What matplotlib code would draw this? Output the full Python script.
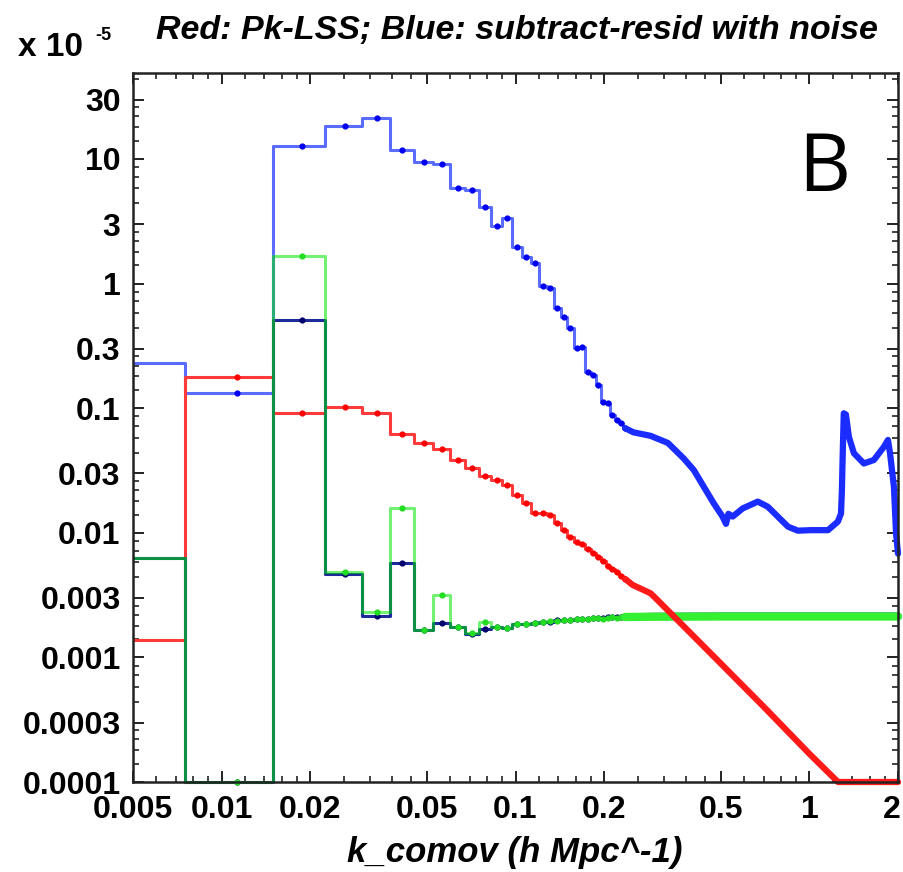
import numpy as np
import matplotlib
matplotlib.use("Agg")
import matplotlib.pyplot as plt
from matplotlib.patches import Rectangle
from matplotlib.transforms import ScaledTranslation
from matplotlib.ticker import FixedLocator, FixedFormatter, NullFormatter

# low-k part: linear k bins (width 0.0075), drawn as histogram steps
k_bins = [0.00375, 0.01125, 0.01875, 0.02625, 0.03375, 0.04125, 0.04875, 0.05625,
          0.06375, 0.07125, 0.07875, 0.08625, 0.09375, 0.10125, 0.10875, 0.11625,
          0.12375, 0.13125, 0.13875, 0.14625, 0.15375, 0.16125, 0.16875, 0.17625,
          0.18375, 0.19125, 0.19875, 0.20625, 0.21375, 0.22125, 0.22875, 0.23625]
red_bins = [1.38e-3, 0.179, 0.091, 0.1017, 0.091, 0.0617, 0.053, 0.0468,
            0.0384, 0.0329, 0.0286, 0.0265, 0.0242, 0.0201, 0.0173, 0.0143,
            0.0145, 0.0139, 0.0119, 0.0105, 0.0093, 8.5e-3, 8.1e-3, 7.4e-3,
            6.84e-3, 6.43e-3, 5.94e-3, 5.44e-3, 5.12e-3, 4.82e-3, 4.53e-3, 4.26e-3]
blue_bins = [0.23, 0.132, 12.6, 18.5, 21.2, 11.8, 9.5, 9.06,
             5.82, 5.65, 4.14, 2.92, 3.34, 1.98, 1.64, 1.47,
             0.95, 0.93, 0.634, 0.542, 0.438, 0.303, 0.31, 0.196,
             0.185, 0.154, 0.113, 0.11, 0.088, 0.080, 0.0756, 0.069]
navy_bins = [6.24e-3, 1e-4, 0.51, 4.67e-3, 2.15e-3, 5.69e-3, 1.66e-3, 1.88e-3,
             1.74e-3, 1.54e-3, 1.68e-3, 1.75e-3, 1.72e-3, 1.84e-3, 1.85e-3, 1.9e-3,
             1.93e-3, 1.94e-3, 1.98e-3, 1.99e-3, 2.0e-3, 2.03e-3, 2.05e-3, 2.04e-3,
             2.07e-3, 2.08e-3, 2.07e-3, 2.1e-3, 2.11e-3, 2.1e-3, 2.12e-3, 2.12e-3]
green_bins = [6.24e-3, 1e-4, 1.675, 4.82e-3, 2.33e-3, 0.0157, 1.66e-3, 3.17e-3,
              1.76e-3, 1.56e-3, 1.94e-3, 1.76e-3, 1.71e-3, 1.85e-3, 1.86e-3, 1.9e-3,
              1.92e-3, 1.95e-3, 1.97e-3, 2.0e-3, 1.98e-3, 2.02e-3, 2.04e-3, 2.03e-3,
              2.06e-3, 2.07e-3, 2.05e-3, 2.08e-3, 2.1e-3, 2.09e-3, 2.1e-3, 2.11e-3]

# high-k part: bins are so dense there that the dots merge into a thick line
red_hi_k = [0.23625, 0.25, 0.288, 0.3, 0.4, 0.5, 0.7, 1.0, 1.25, 2.0]
red_hi = [4.26e-3, 3.82e-3, 3.27e-3, 2.98e-3, 1.51e-3, 8.9e-4, 4.0e-4, 1.68e-4, 1e-4, 1e-4]
blue_hi_k = [0.23625, 0.252, 0.288, 0.33, 0.373, 0.404, 0.437, 0.472, 0.506, 0.52,
             0.53, 0.548, 0.593, 0.667, 0.721, 0.78, 0.845, 0.913, 1.011, 1.156,
             1.249, 1.28, 1.289, 1.295, 1.3, 1.308, 1.33, 1.361, 1.416, 1.531,
             1.656, 1.791, 1.849, 1.879, 1.937, 1.97, 2.0]
blue_hi = [0.069, 0.064, 0.06, 0.0526, 0.0396, 0.0319, 0.0234, 0.0173, 0.0135, 0.0118,
           0.0142, 0.0135, 0.0157, 0.0178, 0.0162, 0.0135, 0.0112, 0.0104, 0.0105, 0.0105,
           0.0123, 0.0143, 0.022, 0.036, 0.0526, 0.091, 0.089, 0.059, 0.0435, 0.036,
           0.0384, 0.049, 0.0556, 0.0435, 0.0234, 0.0099, 0.0068]
navy_hi_k = [0.23625, 0.3, 0.5, 1.0, 2.0]
navy_hi = [2.12e-3, 2.14e-3, 2.15e-3, 2.15e-3, 2.15e-3]
green_hi_k = [0.23625, 0.3, 0.5, 1.0, 2.0]
green_hi = [2.11e-3, 2.12e-3, 2.13e-3, 2.13e-3, 2.13e-3]

x_major = [0.005, 0.01, 0.02, 0.05, 0.1, 0.2, 0.5, 1, 2]
x_labels = ["0.005", "0.01", "0.02", "0.05", "0.1", "0.2", "0.5", "1", "2"]
y_major = [1e-4, 3e-4, 1e-3, 3e-3, 0.01, 0.03, 0.1, 0.3, 1, 3, 10, 30]
y_labels = ["0.0001", "0.0003", "0.001", "0.003", "0.01", "0.03", "0.1", "0.3",
            "1", "3", "10", "30"]
ymin, ymax = 1e-4, 49

W, H = 904, 872
fig = plt.figure(figsize=(W / 100, H / 100), dpi=100)
ax = fig.add_axes([133 / W, 90 / H, 765 / W, 709 / H])
ax.set_xscale("log")
ax.set_yscale("log")
ax.set_xlim(0.005, 2)
ax.set_ylim(ymin, ymax)

clip = Rectangle((0, -0.012), 1.006, 1.024, transform=ax.transAxes)


def draw_bins(vals, line_c, dot_c, alpha=1.0):
    v = np.clip(vals, ymin, None)
    ln, = ax.plot(k_bins, v, drawstyle="steps-mid", color=line_c, lw=2.2, alpha=alpha)
    pts, = ax.plot(k_bins, v, "o", color=dot_c, ms=4.5, mec="none")
    ln.set_clip_path(clip)
    pts.set_clip_path(clip)


def draw_hi(k, vals, c, lw):
    ln, = ax.plot(k, np.clip(vals, ymin, None), color=c, lw=lw,
                  solid_capstyle="round", solid_joinstyle="round")
    ln.set_clip_path(clip)


draw_bins(blue_bins, "#5a6cff", "#0000f0")
draw_bins(red_bins, "#ff3a3a", "#ff0000")
draw_bins(navy_bins, "#1c2a9a", "#00006e")
draw_bins(green_bins, "#00e600", "#22dd22", alpha=0.55)

draw_hi(blue_hi_k, blue_hi, "#1a2cff", 4.5)
draw_hi(navy_hi_k, navy_hi, "#1c1c8a", 5)
draw_hi(green_hi_k, green_hi, "#33f033", 6)
draw_hi(red_hi_k, red_hi, "#ff1a1a", 4.5)

# IDL style ticks: minor ticks split each labelled interval linearly
x_minor = []
for a, b in zip(x_major[:-1], x_major[1:]):
    x_minor += list(np.linspace(a, b, 6)[1:-1])
y_minor = []
for a, b in zip(y_major, y_major[1:] + [100]):
    y_minor += [t for t in np.linspace(a, b, 6)[1:-1] if t < ymax]

ax.xaxis.set_major_locator(FixedLocator(x_major))
ax.xaxis.set_major_formatter(FixedFormatter(x_labels))
ax.xaxis.set_minor_locator(FixedLocator(x_minor))
ax.xaxis.set_minor_formatter(NullFormatter())
ax.yaxis.set_major_locator(FixedLocator(y_major))
ax.yaxis.set_major_formatter(FixedFormatter(y_labels))
ax.yaxis.set_minor_locator(FixedLocator(y_minor))
ax.yaxis.set_minor_formatter(NullFormatter())

ax.tick_params(which="both", direction="in", top=True, right=True, color="#222222")
ax.tick_params(which="major", length=8, width=1.4)
ax.tick_params(which="minor", length=4.5, width=1.2)
ax.tick_params(axis="x", which="major", pad=9.5)
ax.tick_params(axis="y", which="major", pad=9)
for s in ax.spines.values():
    s.set_linewidth(1.8)
    s.set_color("#222222")
for lab in ax.get_xticklabels() + ax.get_yticklabels():
    lab.set_family("Liberation Sans")
    lab.set_fontweight("bold")
    lab.set_fontsize(23)

# the "2" sits on the right edge of the figure; nudge it inside
last = ax.get_xticklabels()[-1]
last.set_transform(last.get_transform() + ScaledTranslation(-6 / 100, 0, fig.dpi_scale_trans))

fig.text(517 / W, 1 - 30 / H, "Red: Pk-LSS; Blue: subtract-resid with noise",
         ha="center", va="center", fontsize=24.5, family="Liberation Sans",
         fontweight="bold", style="italic")
fig.text(515 / W, 1 - 852 / H, "k_comov (h Mpc^-1)", ha="center", va="center",
         fontsize=25, family="Liberation Sans", fontweight="bold", style="italic")
fig.text(18 / W, 1 - 47 / H, "x 10", ha="left", va="center", fontsize=24,
         family="Liberation Sans", fontweight="bold")
fig.text(95 / W, 1 - 36 / H, "-5", ha="left", va="center", fontsize=13,
         family="Liberation Sans", fontweight="bold")
fig.text(824 / W, 1 - 170 / H, "B", ha="center", va="center", fontsize=58,
         family="Open Sans")

fig.savefig("out.png", dpi=100)
